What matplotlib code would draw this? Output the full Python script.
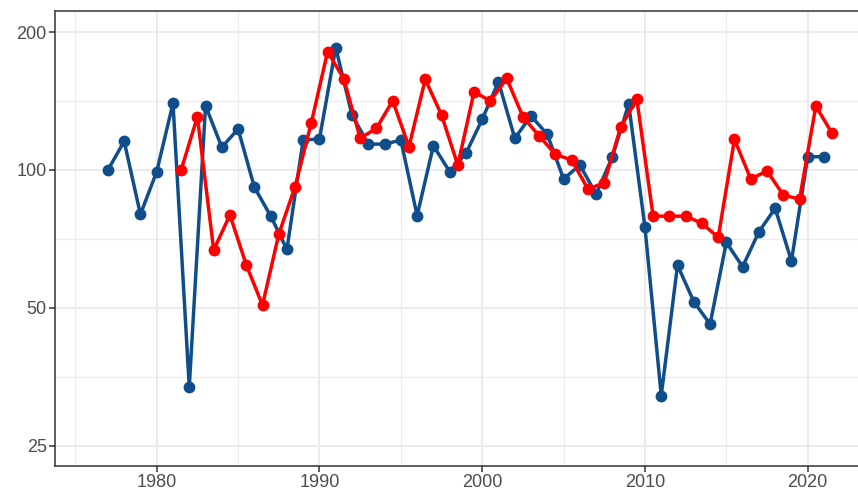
import numpy as np
import matplotlib
matplotlib.use("Agg")
import matplotlib.pyplot as plt
from matplotlib.ticker import FixedLocator, NullFormatter

plt.rcParams['font.family'] = ['Liberation Sans', 'DejaVu Sans']

# yearly index, blue series sits on whole years, red series on mid-years
blue_years = np.arange(1977, 2022)
blue_vals = [100, 115.5, 80.0, 99.2, 139.8, 33.6, 138.1, 112.1, 122.9, 91.7,
             79.4, 67.1, 116.2, 116.9, 184.9, 131.8, 113.9, 113.9, 116.2, 79.5,
             113.0, 99.2, 108.7, 129.0, 155.8, 117.3, 131.2, 119.6, 95.6, 102.5,
             88.6, 106.9, 139.3, 75.0, 32.2, 62.0, 51.6, 46.1, 69.5, 61.5,
             73.3, 82.5, 63.3, 106.9, 106.9]

red_years = np.arange(1981, 2022) + 0.5
red_vals = [100, 130.7, 66.9, 79.8, 62.1, 50.7, 72.4, 91.9, 126.8, 181.2,
            158.0, 117.3, 123.3, 141.6, 112.4, 157.7, 131.8, 102.5, 148.2, 141.4,
            158.5, 130.7, 118.6, 108.2, 105.1, 90.8, 93.8, 123.9, 142.8, 79.3,
            79.3, 79.3, 76.5, 71.3, 116.6, 95.6, 99.5, 88.2, 86.4, 137.9,
            120.2]

x_ticks = [1980, 1990, 2000, 2010, 2020]
x_minor = [1975, 1985, 1995, 2005, 2015]
y_ticks = [25, 50, 100, 200]

fig = plt.figure(figsize=(8.58, 4.95), dpi=100)
ax = fig.add_axes([55 / 858, 29 / 495, 803 / 858, 455 / 495])

ax.set_yscale('log', base=2)
ax.set_xlim(1973.75, 2023.09)
ax.set_ylim(22.6, 222.3)

ax.plot(blue_years, blue_vals, color='#104E8B', lw=2.5, marker='o', ms=7.5, zorder=3)
ax.plot(red_years, red_vals, color='#FF0000', lw=2.5, marker='o', ms=7.5, zorder=4)

ax.xaxis.set_major_locator(FixedLocator(x_ticks))
ax.xaxis.set_minor_locator(FixedLocator(x_minor))
ax.yaxis.set_major_locator(FixedLocator(y_ticks))
ax.yaxis.set_minor_locator(FixedLocator([25 * np.sqrt(2), 50 * np.sqrt(2), 100 * np.sqrt(2)]))
ax.set_xticklabels([str(t) for t in x_ticks])
ax.set_yticklabels([str(t) for t in y_ticks])
ax.yaxis.set_minor_formatter(NullFormatter())

ax.grid(which='major', color='#EBEBEB', lw=1.5, zorder=0)
ax.grid(which='minor', color='#EBEBEB', lw=0.8, zorder=0)
ax.set_axisbelow(True)

ax.tick_params(which='major', length=4, width=1.1, color='#333333',
               labelsize=13, labelcolor='#4D4D4D', pad=2)
ax.tick_params(which='minor', length=0)

for side in ['left', 'top', 'bottom']:
    ax.spines[side].set_color('#333333')
    ax.spines[side].set_linewidth(1.1)
ax.spines['right'].set_visible(False)

fig.savefig('out.png', dpi=100)
